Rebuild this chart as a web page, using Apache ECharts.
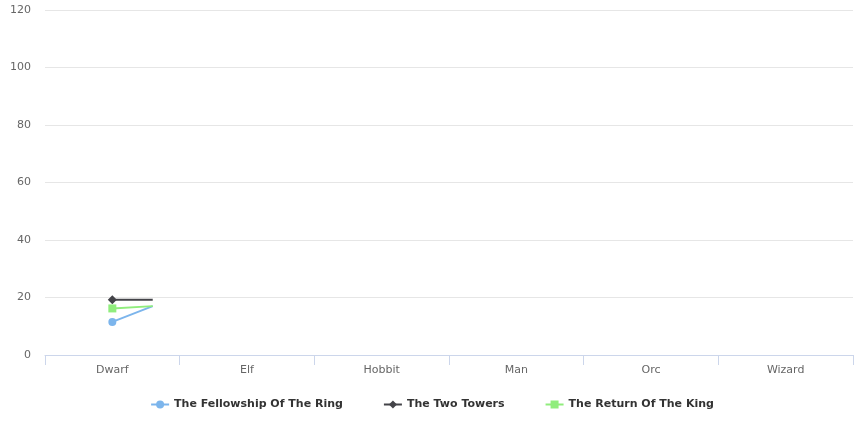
<!DOCTYPE html>
<html><head><meta charset="utf-8">
<script src="https://cdn.jsdelivr.net/npm/echarts@6/dist/echarts.min.js"></script>
<style>html,body{margin:0;padding:0;background:#fff}#c{width:864px;height:432px}</style>
</head><body><div id="c"></div>
<script>
// Categories (x axis)
const categories = ['Dwarf', 'Elf', 'Hobbit', 'Man', 'Orc', 'Wizard'];
// Visible portion of each series: [category position, value]; the line is cut off shortly after Dwarf
const fellowship = [[0.5, 11.5], [0.8, 17]];
const twoTowers = [[0.5, 19.2], [0.8, 19.2]];
const returnKing = [[0.5, 16.2], [0.8, 17]];
const seriesNames = ['The Fellowship Of The Ring', 'The Two Towers', 'The Return Of The King'];
const yTicks = { min: 0, max: 120, interval: 20 };

const font = 'DejaVu Sans, Verdana, sans-serif';
function mk(data, name, color, symbol, size) {
  return {
    name, type: 'line', xAxisIndex: 1, color,
    symbol, symbolSize: size,
    lineStyle: { width: 2, color },
    itemStyle: { color },
    data: data.map((d, i) => i === 0 ? { value: d } : { value: d, symbol: 'none' }),
    animation: false
  };
}
const chart = echarts.init(document.getElementById('c'), null, { renderer: 'canvas' });
chart.setOption({
  animation: false,
  grid: { left: 45, right: 11, top: 10, bottom: 77 },
  xAxis: [{
    type: 'category', data: categories, boundaryGap: true,
    axisLine: { lineStyle: { color: '#ccd6eb', width: 1 } },
    axisTick: { show: true, length: 10, lineStyle: { color: '#ccd6eb' }, alignWithLabel: false },
    axisLabel: { color: '#666666', fontSize: 11, fontFamily: font, margin: 10 },
    splitLine: { show: false }
  }, {
    type: 'value', min: 0, max: 6, show: false
  }],
  yAxis: {
    type: 'value', min: yTicks.min, max: yTicks.max, interval: yTicks.interval,
    axisLine: { show: false }, axisTick: { show: false },
    axisLabel: { color: '#666666', fontSize: 11, fontFamily: font, margin: 14 },
    splitLine: { lineStyle: { color: '#e6e6e6', width: 1 } }
  },
  legend: {
    bottom: 17, left: 'center', itemGap: 40, itemWidth: 18, itemHeight: 10,
    textStyle: { fontFamily: font, fontSize: 11, fontWeight: 'bold', color: '#333333' },
    data: seriesNames
  },
  series: [
    mk(fellowship, seriesNames[0], '#7cb5ec', 'circle', 8),
    mk(twoTowers, seriesNames[1], '#434348', 'diamond', 9),
    mk(returnKing, seriesNames[2], '#90ed7d', 'rect', 8)
  ]
});
</script></body></html>
